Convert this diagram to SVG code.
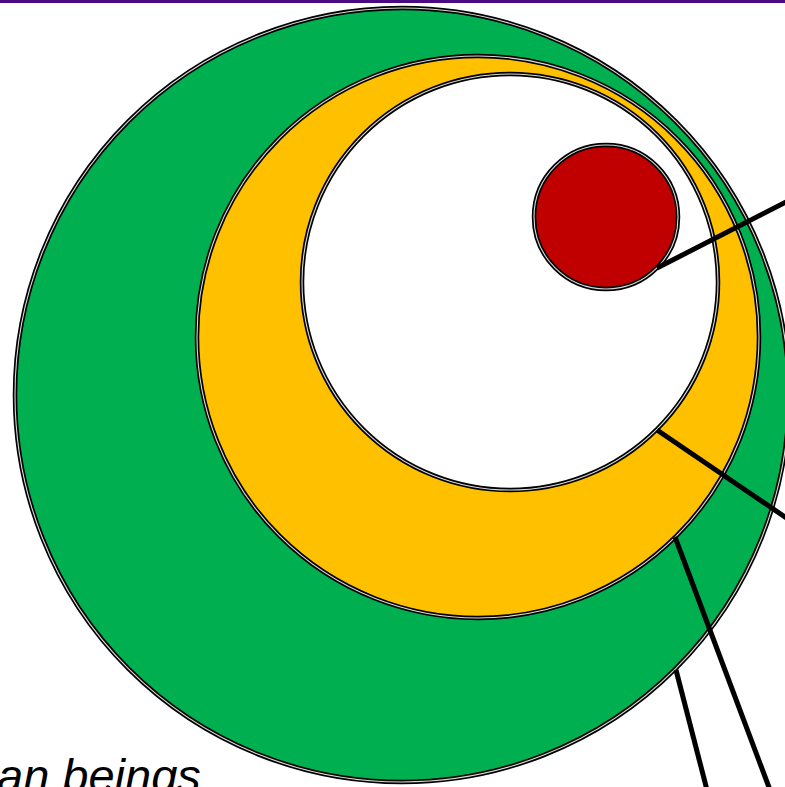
<svg xmlns="http://www.w3.org/2000/svg" width="785" height="787" viewBox="0 0 785 787">
<style>
.o{stroke:#000;stroke-width:4.5}
.i{fill:none;stroke:#fff;stroke-width:1.1;stroke-opacity:0.85}
.c{stroke:#000;stroke-width:5;fill:none}
</style>
<rect x="0" y="0" width="785" height="787" fill="#fff"/>
<rect x="0" y="0" width="785" height="3" fill="#4b0a82"/>
<g id="green">
<circle cx="402" cy="395" r="387" fill="#00b050" class="o"/>
<circle cx="402" cy="395" r="387" class="i"/>
</g>
<g id="yellow">
<circle cx="478" cy="337" r="281" fill="#ffc000" class="o"/>
<circle cx="478" cy="337" r="281" class="i"/>
</g>
<g id="white">
<circle cx="510" cy="282" r="208" fill="#fff" class="o"/>
<circle cx="510" cy="282" r="208" class="i"/>
</g>
<g id="red">
<circle cx="606" cy="217" r="72" fill="#c00000" class="o"/>
<circle cx="606" cy="217" r="72" class="i"/>
</g>
<g id="connectors">
<line class="c" x1="657" y1="268" x2="788" y2="201"/>
<line class="c" x1="657" y1="430" x2="788" y2="519"/>
<line class="c" x1="675" y1="537" x2="770" y2="790"/>
<line class="c" x1="676" y1="670" x2="707" y2="790"/>
</g>
<g id="label">
<text x="-3" y="792" font-family="Liberation Sans, Arial, sans-serif" font-size="47" font-style="italic" fill="#000">an beings</text>
</g>
</svg>
